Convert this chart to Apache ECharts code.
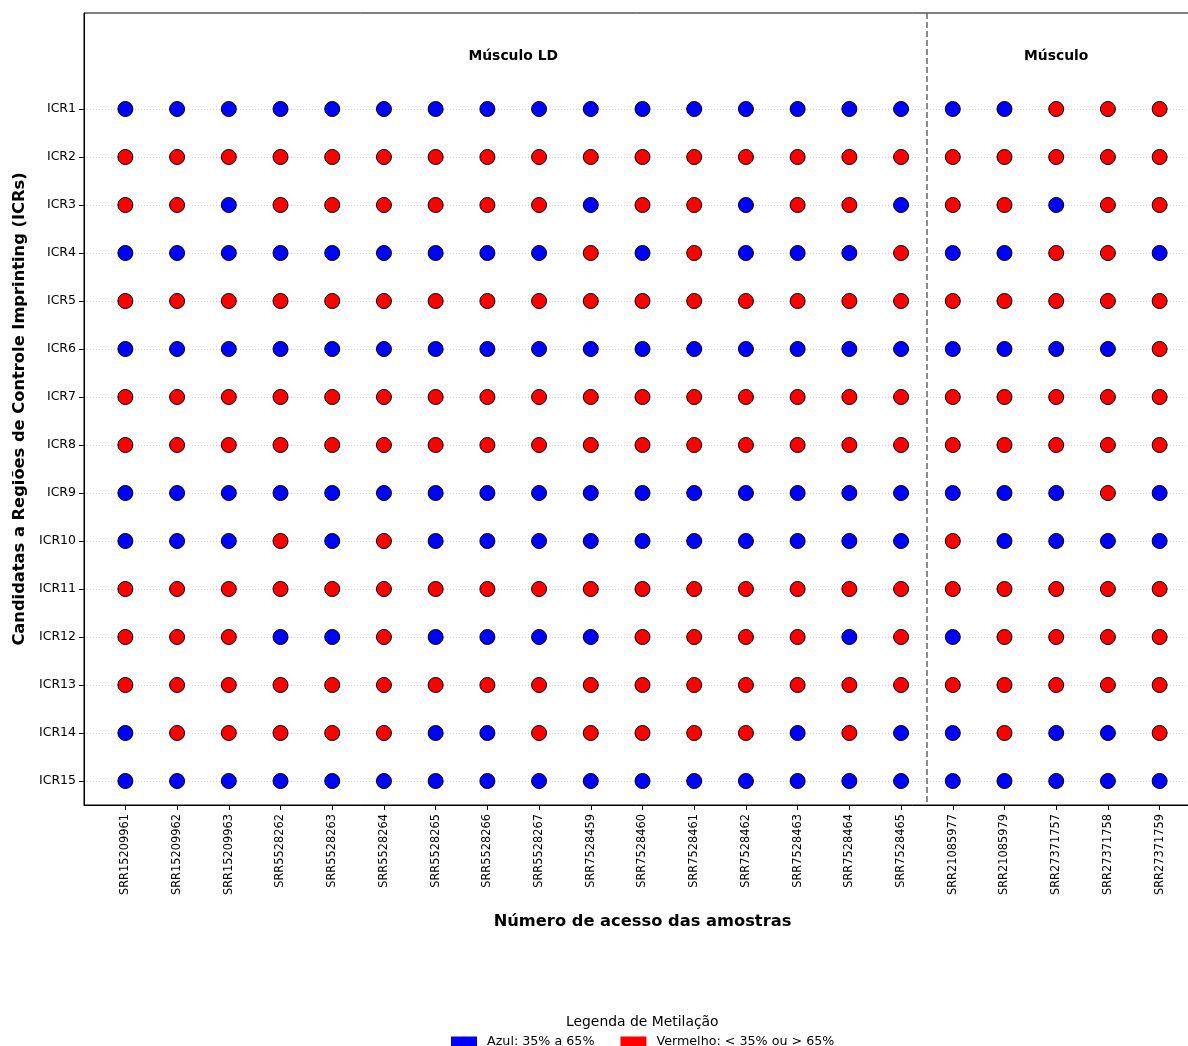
<!DOCTYPE html>
<html>
<head>
<meta charset="utf-8">
<script src="https://cdn.jsdelivr.net/npm/echarts@6/dist/echarts.min.js"></script>
<style>
html,body{margin:0;padding:0;background:#fff;}
#chart{width:1188px;height:1046px;}
</style>
</head>
<body>
<div id="chart"></div>
<script>
// Sample accession numbers (x axis)
const samples = ['SRR15209961','SRR15209962','SRR15209963','SRR5528262','SRR5528263','SRR5528264','SRR5528265','SRR5528266','SRR5528267','SRR7528459','SRR7528460','SRR7528461','SRR7528462','SRR7528463','SRR7528464','SRR7528465','SRR21085977','SRR21085979','SRR27371757','SRR27371758','SRR27371759'];
// Candidate ICRs (y axis)
const icrs = ['ICR1','ICR2','ICR3','ICR4','ICR5','ICR6','ICR7','ICR8','ICR9','ICR10','ICR11','ICR12','ICR13','ICR14','ICR15'];
// Tissue groups
const groupNames = ['Músculo LD', 'Músculo'];
const groupSizes = [16, 5];
// Methylation status per ICR: A = Azul (35% a 65%), V = Vermelho (< 35% ou > 65%)
const ICR1  = 'AAAAAAAAAAAAAAAAAAVVV'.split('');
const ICR2  = 'VVVVVVVVVVVVVVVVVVVVV'.split('');
const ICR3  = 'VVAVVVVVVAVVAVVAVVAVV'.split('');
const ICR4  = 'AAAAAAAAAVAVAAAVAAVVA'.split('');
const ICR5  = 'VVVVVVVVVVVVVVVVVVVVV'.split('');
const ICR6  = 'AAAAAAAAAAAAAAAAAAAAV'.split('');
const ICR7  = 'VVVVVVVVVVVVVVVVVVVVV'.split('');
const ICR8  = 'VVVVVVVVVVVVVVVVVVVVV'.split('');
const ICR9  = 'AAAAAAAAAAAAAAAAAAAVA'.split('');
const ICR10 = 'AAAVAVAAAAAAAAAAVAAAA'.split('');
const ICR11 = 'VVVVVVVVVVVVVVVVVVVVV'.split('');
const ICR12 = 'VVVAAVAAAAVVVVAVAVVVV'.split('');
const ICR13 = 'VVVVVVVVVVVVVVVVVVVVV'.split('');
const ICR14 = 'AVVVVVAAVVVVVAVAAVAAV'.split('');
const ICR15 = 'AAAAAAAAAAAAAAAAAAAAA'.split('');
const legendNames = ['Azul: 35% a 65%', 'Vermelho: < 35% ou > 65%'];

const rows = [ICR1,ICR2,ICR3,ICR4,ICR5,ICR6,ICR7,ICR8,ICR9,ICR10,ICR11,ICR12,ICR13,ICR14,ICR15];
const blueData = [], redData = [];
rows.forEach((row, i) => {
  row.forEach((s, j) => {
    (s === 'A' ? blueData : redData).push([j, i]);
  });
});

// group label centers and divider positions
const groupCenters = [];
const dividers = [];
let start = 0;
groupSizes.forEach((n, k) => {
  groupCenters.push([start + (n - 1) / 2, -1.1, groupNames[k]]);
  if (k < groupSizes.length - 1) dividers.push(start + n - 0.5);
  start += n;
});

const FONT = 'DejaVu Sans';
const xIdx = samples.map((_, i) => i);
const yIdx = icrs.map((_, i) => i);

const chart = echarts.init(document.getElementById('chart'), null, {renderer: 'canvas'});
const markerStyle = (c) => ({color: c, borderColor: '#000', borderWidth: 1, opacity: 1});

chart.setOption({
  animation: false,
  backgroundColor: '#fff',
  textStyle: {fontFamily: FONT},
  grid: {left: 84, top: 13, width: 1117, height: 792, show: true, borderColor: '#000', borderWidth: 1,
    backgroundColor: 'transparent', containLabel: false, outerBoundsMode: 'none'},
  xAxis: {
    type: 'value', min: -0.8, max: 20.8,
    name: 'Número de acesso das amostras', nameLocation: 'middle', nameGap: 109,
    nameTextStyle: {fontFamily: FONT, fontSize: 16.3, fontWeight: 'bold', color: '#000'},
    axisLine: {show: true, onZero: false, lineStyle: {color: '#000', width: 1}},
    axisTick: {show: true, customValues: xIdx, length: 5, lineStyle: {color: '#000'}},
    axisLabel: {customValues: xIdx, rotate: 90, fontSize: 11.4, color: '#000', fontFamily: FONT, margin: 9,
      formatter: v => samples[v] || ''},
    splitLine: {show: false}
  },
  yAxis: {
    type: 'value', min: -2, max: 14.5, inverse: true,
    name: 'Candidatas a Regiões de Controle Imprinting (ICRs)', nameLocation: 'middle', nameGap: 56, nameRotate: 90,
    nameTextStyle: {fontFamily: FONT, fontSize: 16.3, fontWeight: 'bold', color: '#000'},
    axisLine: {show: true, onZero: false, lineStyle: {color: '#000', width: 1}},
    axisTick: {show: true, customValues: yIdx, length: 5, lineStyle: {color: '#000'}},
    axisLabel: {customValues: yIdx, fontSize: 12.5, color: '#000', fontFamily: FONT, margin: 8,
      formatter: v => icrs[v] || ''},
    splitLine: {show: true, lineStyle: {color: '#cccccc', type: [1, 2], width: 0.8}}
  },
  legend: {
    left: 451, top: 1035, padding: 0, itemWidth: 26, itemHeight: 10, itemGap: 26, icon: 'rect',
    textStyle: {fontFamily: FONT, fontSize: 12.7, color: '#000', padding: [0, 0, 0, 5]},
    data: [
      {name: legendNames[0], itemStyle: {color: '#0000ff', borderWidth: 0}},
      {name: legendNames[1], itemStyle: {color: '#ff0000', borderWidth: 0}}
    ]
  },
  graphic: [{
    type: 'text', left: 642 - 76, top: 1015,
    style: {text: 'Legenda de Metilação', font: '13.9px "DejaVu Sans"', fill: '#000'}
  }],
  series: [
    {
      name: legendNames[0], type: 'scatter', symbol: 'circle', symbolSize: 15,
      itemStyle: markerStyle('#0000ff'), data: blueData, z: 5,
      markLine: {
        silent: true, symbol: 'none', label: {show: false},
        lineStyle: {type: [6, 3], color: '#666', width: 1.5},
        data: dividers.map(d => ({xAxis: d}))
      }
    },
    {
      name: legendNames[1], type: 'scatter', symbol: 'circle', symbolSize: 15,
      itemStyle: markerStyle('#ff0000'), data: redData, z: 5
    },
    {
      name: 'grupos', type: 'scatter', symbolSize: 0, silent: true,
      data: groupCenters,
      label: {show: true, position: 'inside', formatter: p => p.data[2],
        fontFamily: FONT, fontSize: 13.9, fontWeight: 'bold', color: '#000', opacity: 1, textBorderWidth: 0}
    }
  ]
});
</script>
</body>
</html>
